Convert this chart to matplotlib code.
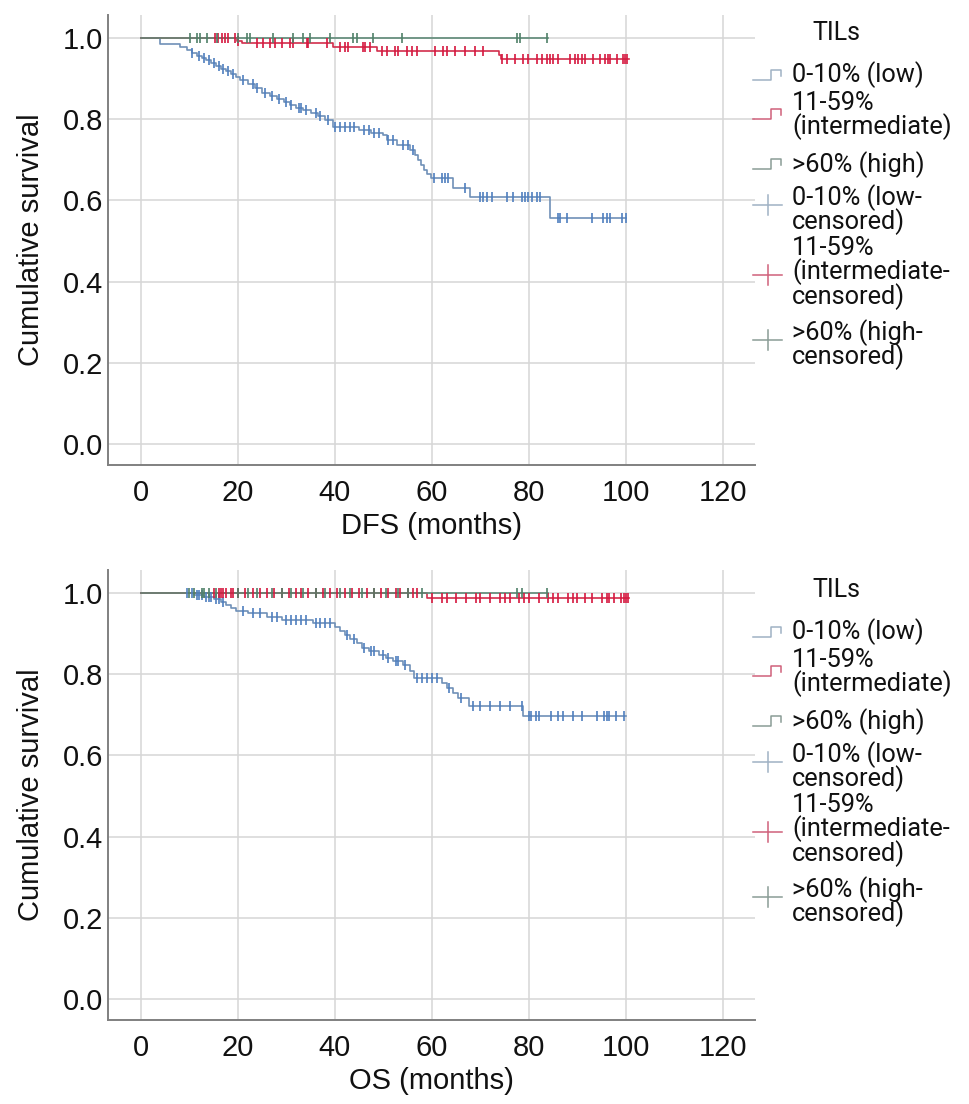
import numpy as np
import matplotlib
matplotlib.use("Agg")
import matplotlib.pyplot as plt
from matplotlib.lines import Line2D

plt.rcParams['font.family'] = ['Liberation Sans', 'DejaVu Sans']
LEG_FONT = ['Roboto', 'Liberation Sans', 'DejaVu Sans']

# ---------------- DATA ----------------
x_ticks = [0, 20, 40, 60, 80, 100, 120]
y_ticks = [0.0, 0.2, 0.4, 0.6, 0.8, 1.0]
legend_title = "TILs"
group_labels = ["0-10% (low)", "11-59%\n(intermediate)", ">60% (high)"]
censor_labels = ["0-10% (low-\ncensored)", "11-59%\n(intermediate-\ncensored)", ">60% (high-\ncensored)"]

# DFS - low TILs
dfs_low_t = [4, 8, 9.5, 10.5, 11.5, 12.5, 13.5, 14.5, 15.5, 16.5, 17.5, 18.5, 19.5, 20.5, 22, 23.5, 25,
             26.5, 28, 29.5, 30.7, 32, 33.5, 35, 36.5, 38, 39.5, 45, 47.5, 50, 50.8, 52.8, 55.5, 56.5,
             57.2, 57.8, 58.3, 59, 59.7, 64.3, 67.8, 84.3]
dfs_low_s = [0.985, 0.977, 0.970, 0.963, 0.956, 0.950, 0.945, 0.938, 0.931, 0.925, 0.918, 0.911, 0.904,
             0.897, 0.887, 0.877, 0.866, 0.858, 0.850, 0.842, 0.835, 0.828, 0.822, 0.815, 0.808, 0.798,
             0.781, 0.773, 0.767, 0.761, 0.749, 0.736, 0.724, 0.712, 0.700, 0.688, 0.675, 0.665, 0.655,
             0.630, 0.608, 0.557]
dfs_low_c = [10.5, 12, 13, 14, 15, 16, 17, 18, 19, 21, 23, 24, 25.5, 27, 28.5, 30, 31, 32.5, 33, 34, 36,
             37, 38.5, 40, 41, 42, 43, 44, 46, 47, 48, 49, 51, 52, 54, 55, 56, 60.5, 62, 62.7, 63.3, 66.8,
             69.9, 70.5, 71.3, 72.4, 75.5, 76.7, 78.6, 79.2, 79.8, 80.6, 81.6, 82.3, 86, 86.4, 87.8, 93,
             95.3, 96, 96.7, 99.2, 100]
dfs_low_end = 100

# DFS - intermediate TILs
dfs_mid_t = [19.8, 20.8, 39.6, 48.7, 73.9, 74.3]
dfs_mid_s = [0.994, 0.987, 0.978, 0.968, 0.958, 0.948]
dfs_mid_c = [15.3, 15.9, 16.7, 17.3, 17.9, 19.4, 20, 23.9, 25.2, 26.6, 27.6, 29, 30.7, 31.3, 34.2, 34.4,
             38.4, 41, 42, 42.7, 45.8, 46.2, 47.2, 49.7, 50.7, 52.4, 53, 54.8, 55.9, 56.9, 60.6, 62.3,
             63.1, 64.7, 66.8, 68.9, 70.5, 74.4, 75.5, 77.1, 78.8, 79.8, 81.6, 82.7, 83.7, 84.3, 84.9,
             86, 88.5, 89.5, 90.1, 90.9, 91.5, 93.2, 94.6, 95.7, 96.3, 96.7, 98.1, 99.4, 99.8, 100.3]
dfs_mid_end = 100.6

# DFS - high TILs
dfs_high_t = []
dfs_high_s = []
dfs_high_c = [10.1, 11.5, 12.2, 13.6, 15.7, 20, 21.9, 22.5, 27.2, 31.3, 33.4, 34.8, 39, 43.7, 44.5, 47.8,
              53.8, 77.5, 78.1, 83.7]
dfs_high_end = 84

# OS - low TILs
os_low_t = [11, 13, 15, 16.5, 17.5, 18.5, 19.5, 22, 26, 29, 35.5, 40, 41, 42, 43, 44.5, 45.5, 47, 49,
            50.5, 52, 54, 55.5, 56.2, 62, 63, 64.3, 65.4, 67.6, 78.8]
os_low_s = [0.995, 0.990, 0.985, 0.978, 0.970, 0.963, 0.957, 0.950, 0.942, 0.934, 0.926, 0.916, 0.906,
            0.896, 0.886, 0.876, 0.866, 0.857, 0.848, 0.840, 0.832, 0.824, 0.808, 0.792, 0.778, 0.765,
            0.753, 0.742, 0.722, 0.697]
os_low_c = [9.5, 10.5, 11.5, 12, 12.5, 13.5, 14, 14.5, 15.5, 16, 17, 21, 23, 24.5, 27, 28, 30, 31, 32,
            33, 34, 36, 37, 38, 39, 42.5, 44, 46, 47.5, 48, 50, 51, 52.5, 53, 54.5, 57, 58, 59, 60, 61,
            63.5, 66, 68.5, 70, 72, 74, 76, 78.5, 80, 80.5, 81.5, 82, 84.5, 86, 87, 89, 91, 94, 95.5,
            96, 96.5, 98, 99.5]
os_low_end = 100

# OS - intermediate TILs
os_mid_t = [59]
os_mid_s = [0.987]
os_mid_c = [15, 16, 16.5, 17, 17.5, 18.5, 19, 20, 21.5, 23, 24.5, 26, 27.5, 29, 30.5, 32, 33, 34.5, 36,
            37.5, 39, 40.5, 42, 43.5, 45, 46.5, 48, 49.5, 51, 52.5, 53.5, 55, 56, 57, 60, 62, 63, 65, 67,
            69, 70, 72, 74, 75, 76, 78, 79, 80, 82, 84, 85, 86, 88, 89, 90, 91.5, 93, 95, 96, 96.5, 97.5,
            99, 99.5, 100, 100.5]
os_mid_end = 100.6

# OS - high TILs
os_high_t = []
os_high_s = []
os_high_c = [10, 11, 12.5, 13, 14, 15.5, 20, 22, 24, 27, 29, 31, 33.5, 36, 38, 41, 43, 45.5, 48, 50.5,
             53, 55, 58, 77.5, 78.6, 83.7]
os_high_end = 84

# ---------------- STYLE ----------------
W, H = 969, 1104
col_line = ["#6f90b8", "#d22d4c", "#5f8a78"]
col_tick = ["#4f7fbf", "#d6183f", "#4f8068"]
col_leg = ["#9fb2c4", "#d0607a", "#8a9c96"]
spine_col = "#808080"
grid_col = "#d6d6d6"
txt_col = "#111111"

fig = plt.figure(figsize=(W / 100, H / 100), dpi=100)


def km(ax, ev_t, ev_s, cens, end_t, lc, tc):
    ev_t = np.asarray(ev_t, float)
    ev_s = np.asarray(ev_s, float)
    all_t = np.concatenate([[0.0], ev_t])
    all_s = np.concatenate([[1.0], ev_s])
    t = np.concatenate([all_t, [end_t]])
    s = np.concatenate([all_s, [all_s[-1]]])
    ax.step(t, s, where='post', color=lc, lw=1.2, zorder=3)
    cens = np.asarray(cens, float)
    idx = np.searchsorted(all_t, cens, side='right') - 1
    ax.plot(cens, all_s[idx], ls='none', marker='|', ms=6.8, mew=1.2, color=tc, zorder=4)


def panel(top_px, xlabel, groups, yoff):
    bottom_px = top_px + 450
    ax = fig.add_axes([108 / W, 1 - bottom_px / H, (755 - 108) / W, 450 / H])
    ax.set_xlim(-6.8, 126.6)
    ax.set_ylim(-0.052, 1.057)
    ax.set_xticks(x_ticks)
    ax.set_yticks(y_ticks)
    ax.set_yticklabels([f"{v:.1f}" for v in y_ticks])
    ax.grid(True, color=grid_col, lw=1.1)
    ax.set_axisbelow(True)
    for sp in ["top", "right"]:
        ax.spines[sp].set_visible(False)
    for sp in ["left", "bottom"]:
        ax.spines[sp].set_color(spine_col)
        ax.spines[sp].set_linewidth(1.4)
    ax.tick_params(axis='both', length=0, labelsize=21, colors=txt_col)
    ax.tick_params(axis='y', pad=3.5)
    ax.tick_params(axis='x', pad=10)
    ax.set_ylabel("Cumulative survival", fontsize=21, color=txt_col)
    ax.set_xlabel(xlabel, fontsize=21, color=txt_col)
    ax.yaxis.set_label_coords(-0.097, 0.5)
    ax.xaxis.set_label_coords(0.5, -0.105)
    for i, (et, es, ec, ee) in enumerate(groups):
        km(ax, et, es, ec, ee, col_line[i], col_tick[i])

    # legend (drawn in figure pixel coordinates)
    def P(x, y):
        return x / W, 1 - (y + yoff) / H
    fig.text(*P(836, 33), legend_title, fontsize=18, ha='center', va='center', color=txt_col,
             family=LEG_FONT)
    text_y = [75, 115.5, 165, 209.5, 273, 344.5]
    icon_y = [75, 114, 164, 205, 275, 340]
    labels = group_labels + censor_labels
    for k in range(6):
        fig.text(*P(792, text_y[k]), labels[k], fontsize=18.3, ha='left', va='center',
                 linespacing=0.9, color=txt_col, family=LEG_FONT)
        c = col_leg[k % 3]
        y = icon_y[k]
        if k < 3:
            xs = [753, 771, 771, 781, 781]
            ys = [y + 5, y + 5, y - 5, y - 5, y + 1]
        else:
            fig.add_artist(Line2D([P(768, 0)[0]] * 2, [P(0, y - 10)[1], P(0, y + 10)[1]],
                                  color=c, lw=1.1))
            xs = [753, 782]
            ys = [y, y]
        fx = [P(a, 0)[0] for a in xs]
        fy = [P(0, b)[1] for b in ys]
        fig.add_artist(Line2D(fx, fy, color=c, lw=1.1))
    return ax


panel(15, "DFS (months)",
      [(dfs_low_t, dfs_low_s, dfs_low_c, dfs_low_end),
       (dfs_mid_t, dfs_mid_s, dfs_mid_c, dfs_mid_end),
       (dfs_high_t, dfs_high_s, dfs_high_c, dfs_high_end)], 0)
panel(570, "OS (months)",
      [(os_low_t, os_low_s, os_low_c, os_low_end),
       (os_mid_t, os_mid_s, os_mid_c, os_mid_end),
       (os_high_t, os_high_s, os_high_c, os_high_end)], 557)

fig.savefig("out.png", dpi=100, facecolor="white")
